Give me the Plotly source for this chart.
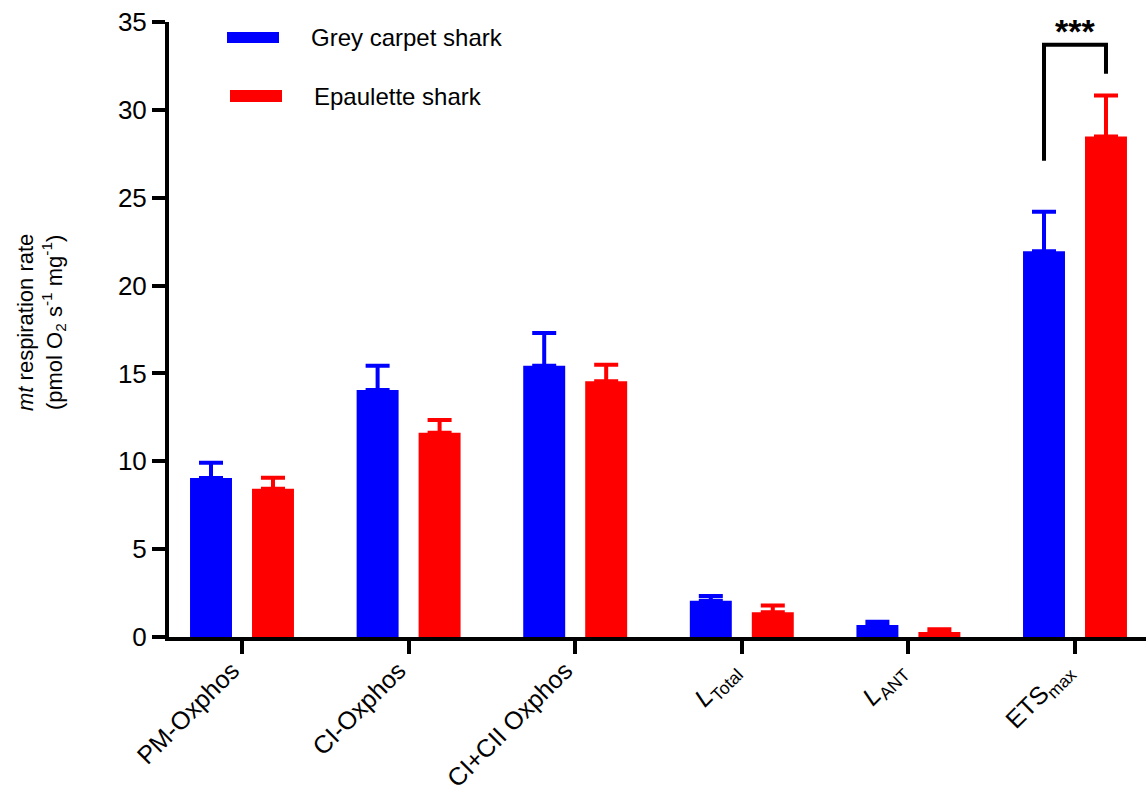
import plotly.graph_objects as go

# ---- data ----
categories = ["PM-Oxphos", "CI-Oxphos", "CI+CII Oxphos",
              "<i>L</i><sub>Total</sub>", "<i>L</i><sub>ANT</sub>", "ETS<sub>max</sub>"]
grey_carpet = [9.05, 14.05, 15.44, 2.06, 0.69, 21.95]
grey_carpet_err = [0.87, 1.39, 1.86, 0.28, 0.18, 2.25]
epaulette = [8.43, 11.63, 14.55, 1.41, 0.29, 28.48]
epaulette_err = [0.63, 0.72, 0.94, 0.38, 0.15, 2.33]
series_names = ["Grey carpet shark", "Epaulette shark"]
colors = ["#0000FF", "#FF0000"]
y_ticks = [0, 5, 10, 15, 20, 25, 30, 35]
sig_label = "***"
sig_bracket_y = [27.1, 33.7, 32.05]  # left bottom, top, right bottom

# ---- geometry ----
W, H = 1146, 794
ML, MR, MT, MB = 169, 0, 22, 157
PW, PH = W - ML - MR, H - MT - MB
BARGAP = 0.256
BARGROUPGAP = 0.323
FONT = "Liberation Sans, Arial, sans-serif"


def px_x(px):
    return (px - ML) / PW


def px_y(py):
    return (H - MB - py) / PH


xs = list(range(len(categories)))
fig = go.Figure()
for name, vals, errs, col in [
    (series_names[0], grey_carpet, grey_carpet_err, colors[0]),
    (series_names[1], epaulette, epaulette_err, colors[1]),
]:
    fig.add_trace(go.Bar(
        x=xs, y=vals, name=name, marker=dict(color=col, line=dict(width=0)),
        error_y=dict(type="data", symmetric=False, array=errs,
                     arrayminus=[0] * len(errs), color=col,
                     thickness=4, width=12),
        showlegend=False,
    ))

# significance bracket on the last category
slot = (1 - BARGAP) / 2
off = slot / 2
xc = xs[-1]
fig.add_shape(type="path",
              path=f"M {xc - off},{sig_bracket_y[0]} L {xc - off},{sig_bracket_y[1]} "
                   f"L {xc + off},{sig_bracket_y[1]} L {xc + off},{sig_bracket_y[2]}",
              xref="x", yref="y", line=dict(color="black", width=4))
fig.add_annotation(x=xc, y=34.5, xref="x", yref="y", text=f"<b>{sig_label}</b>",
                   showarrow=False, font=dict(family=FONT, size=34, color="black"),
                   xanchor="center", yanchor="middle")

# legend drawn manually (wide swatches)
legend_items = [
    (series_names[0], colors[0], 227, 279, 32, 43, 309, 38),
    (series_names[1], colors[1], 230, 282, 90, 102, 312, 96),
]
for name, col, x0, x1, y0, y1, tx, ty in legend_items:
    fig.add_shape(type="rect", xref="paper", yref="paper",
                  x0=px_x(x0), x1=px_x(x1), y0=px_y(y1), y1=px_y(y0),
                  fillcolor=col, line=dict(width=0))
    fig.add_annotation(xref="paper", yref="paper", x=px_x(tx), y=px_y(ty),
                       text=name, showarrow=False, xanchor="left", yanchor="middle",
                       font=dict(family=FONT, size=24, color="black"))

# y-axis title
fig.add_annotation(xref="paper", yref="paper", x=px_x(41), y=px_y(323),
                   text="<i>mt</i> respiration rate<br>(pmol O<sub>2</sub> s<sup>-1</sup> mg<sup>-1</sup>)",
                   textangle=-90, showarrow=False, xanchor="center", yanchor="middle",
                   font=dict(family=FONT, size=22, color="black"))

left = -(73 / 166.6)
right = (1146 - 242) / 166.6
fig.update_layout(
    width=W, height=H,
    margin=dict(l=ML, r=MR, t=MT, b=MB, pad=0),
    paper_bgcolor="white", plot_bgcolor="white",
    barmode="group", bargap=BARGAP, bargroupgap=BARGROUPGAP,
    font=dict(family=FONT, color="black"),
    xaxis=dict(range=[left, right], tickvals=xs, ticktext=categories, tickangle=-45,
               showgrid=False, zeroline=False, showline=True, linecolor="black",
               linewidth=4, ticks="outside", ticklen=13, tickwidth=4, tickcolor="black",
               ticklabelstandoff=-8, ticklabelshift=-10,
               tickfont=dict(family=FONT, size=25, color="black"), automargin=False),
    yaxis=dict(range=[0, 35], tickvals=y_ticks, showgrid=False, zeroline=False,
               showline=True, linecolor="black", linewidth=4, ticks="outside",
               ticklen=13, tickwidth=4, tickcolor="black",
               tickfont=dict(family=FONT, size=26, color="black"), automargin=False),
)

fig.write_html("out.html", config={"displayModeBar": False},
               post_script="document.body.style.margin='0';document.body.style.overflow='hidden';")
